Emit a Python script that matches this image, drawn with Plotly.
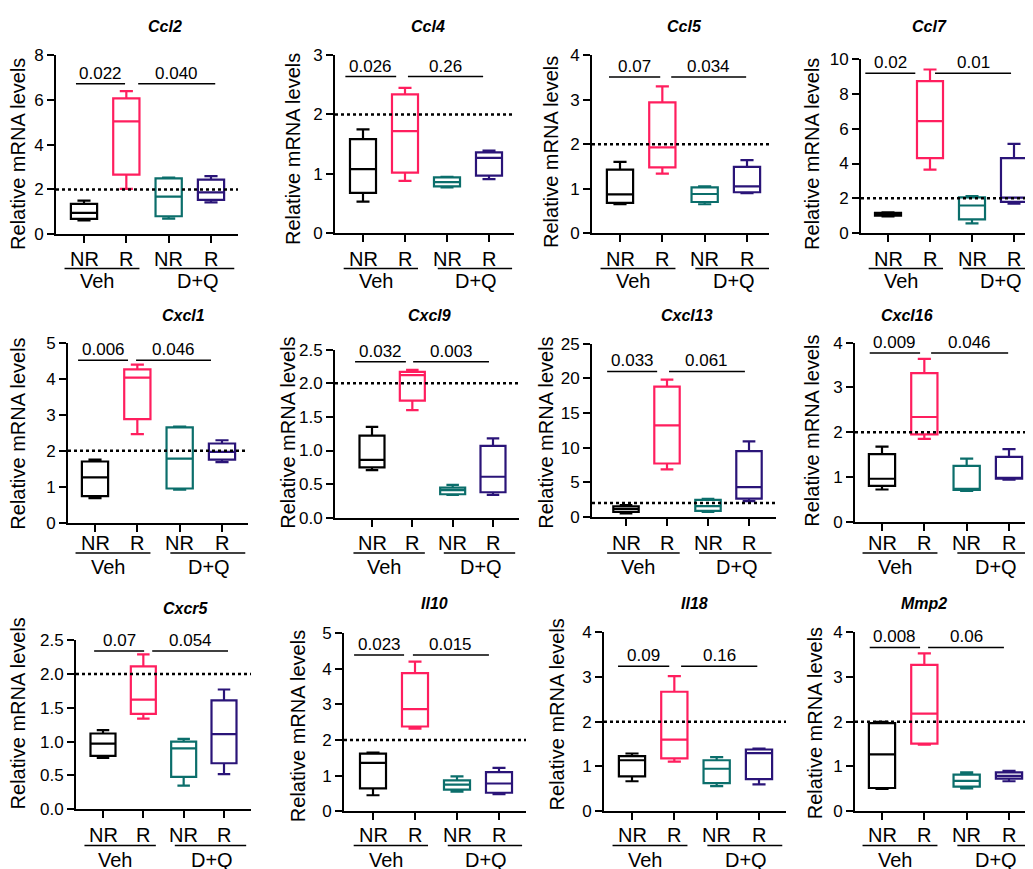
import plotly.graph_objects as go

W, H = 1033, 869

GENES = ["Ccl2", "Ccl4", "Ccl5", "Ccl7", "Cxcl1", "Cxcl9", "Cxcl13", "Cxcl16",
         "Cxcr5", "Il10", "Il18", "Mmp2"]
GROUP_CATS = ["NR", "R", "NR", "R"]
GROUP_NAMES = ["Veh", "D+Q"]

# box statistics per gene: [min, q1, median, q3, max]
VEH_NR = [
    [0.62, 0.68, 0.95, 1.35, 1.50],
    [0.53, 0.68, 1.08, 1.585, 1.75],
    [0.65, 0.68, 0.87, 1.43, 1.60],
    [0.97, 1.01, 1.10, 1.16, 1.20],
    [0.68, 0.74, 1.26, 1.70, 1.75],
    [0.71, 0.75, 0.86, 1.22, 1.35],
    [0.50, 0.70, 1.10, 1.50, 1.70],
    [0.72, 0.80, 0.96, 1.51, 1.68],
    [0.76, 0.79, 0.97, 1.12, 1.17],
    [0.45, 0.64, 1.36, 1.62, 1.65],
    [0.67, 0.78, 1.14, 1.23, 1.29],
    [0.50, 0.52, 1.27, 1.97, 2.00],
]
VEH_R = [
    [2.02, 2.66, 5.04, 6.07, 6.39],
    [0.88, 1.02, 1.72, 2.34, 2.45],
    [1.34, 1.48, 1.93, 2.94, 3.30],
    [3.65, 4.31, 6.44, 8.73, 9.40],
    [2.46, 2.88, 4.03, 4.26, 4.39],
    [1.60, 1.74, 2.12, 2.17, 2.20],
    [6.84, 7.70, 13.2, 18.8, 19.8],
    [1.85, 1.95, 2.34, 3.32, 3.64],
    [1.34, 1.41, 1.62, 2.11, 2.29],
    [2.32, 2.38, 2.87, 3.88, 4.20],
    [1.11, 1.18, 1.60, 2.67, 3.02],
    [1.49, 1.51, 2.18, 3.27, 3.53],
]
DQ_NR = [
    [0.69, 0.80, 1.68, 2.49, 2.53],
    [0.77, 0.79, 0.86, 0.94, 0.95],
    [0.65, 0.70, 0.88, 1.03, 1.05],
    [0.56, 0.79, 1.59, 2.06, 2.13],
    [0.92, 0.95, 1.78, 2.65, 2.67],
    [0.34, 0.35, 0.41, 0.45, 0.49],
    [0.70, 0.85, 1.56, 2.45, 2.60],
    [0.69, 0.71, 0.73, 1.25, 1.41],
    [0.35, 0.48, 0.90, 1.00, 1.04],
    [0.55, 0.61, 0.75, 0.87, 0.98],
    [0.56, 0.63, 0.95, 1.14, 1.21],
    [0.51, 0.55, 0.68, 0.82, 0.87],
]
DQ_R = [
    [1.42, 1.53, 1.87, 2.44, 2.59],
    [0.91, 0.97, 1.27, 1.36, 1.39],
    [0.90, 0.92, 1.05, 1.49, 1.64],
    [1.69, 1.80, 2.04, 4.31, 5.13],
    [1.68, 1.75, 1.97, 2.20, 2.29],
    [0.34, 0.38, 0.61, 1.07, 1.18],
    [2.26, 2.64, 4.29, 9.48, 10.9],
    [0.94, 0.96, 0.98, 1.45, 1.62],
    [0.52, 0.68, 1.11, 1.61, 1.77],
    [0.48, 0.52, 0.78, 1.10, 1.22],
    [0.60, 0.72, 1.30, 1.38, 1.40],
    [0.67, 0.73, 0.79, 0.87, 0.90],
]
P_VEH = ["0.022", "0.026", "0.07", "0.02", "0.006", "0.032", "0.033", "0.009",
         "0.07", "0.023", "0.09", "0.008"]
P_DQ = ["0.040", "0.26", "0.034", "0.01", "0.046", "0.003", "0.061", "0.046",
        "0.054", "0.015", "0.16", "0.06"]
BRACKET_Y = [6.72, 2.64, 3.51, 9.18, 4.51, 2.32, 21.0, 3.77, 2.34, 4.39, 3.24, 3.66]
Y_MAX = [8, 3, 4, 10, 5, 2.5, 25, 4, 2.5, 5, 4, 4]
Y_STEP = [2, 1, 1, 2, 1, 0.5, 5, 1, 0.5, 1, 1, 1]
THRESHOLD = 2

# ---- layout (pixel geometry) ----
BR_L = [(-0.19, 0.97), (-0.42, 0.79), (-0.26, 0.95), (-0.54, 0.65), (-0.40, 0.78),
        (-0.42, 0.84), (-0.46, 0.76), (-0.29, 0.90), (-0.22, 1.02), (-0.45, 0.74),
        (-0.33, 0.88), (-0.29, 0.90)]
BR_R = [(1.28, 3.10), (1.07, 2.86), (1.21, 2.98), (1.12, 2.93), (0.97, 2.74),
        (1.02, 2.90), (1.05, 2.90), (1.16, 2.98), (1.22, 3.10), (0.95, 2.76),
        (1.16, 2.96), (1.09, 2.88)]
GEOM = [  # xl, c0, c3, xr, ytop, ybottom
    (48, 76, 203, 230, 39, 222),
    (327, 355, 481, 506, 39, 221),
    (584, 612, 739, 761, 39, 221),
    (853, 880, 1006, 1031, 43, 221),
    (60, 87, 214, 240, 333, 517),
    (327, 364, 485, 511, 340, 512),
    (584, 618, 741, 768, 334, 511),
    (847, 874, 1001, 1027, 333, 516),
    (68, 95, 216, 243, 637, 810),
    (336, 365, 491, 518, 630, 812),
    (596, 624, 751, 778, 629, 812),
    (847, 874, 1001, 1028, 629, 812),
]
TITLE_XY = [(138, 10), (420, 10), (676, 10), (941, 10), (152, 305), (421, 305),
            (679, 305), (927, 305), (153, 605), (426, 600), (686, 600), (941, 600)]
YT_X = [10, 285, 543, 804, 10, 280, 538, 804, 10, 290, 549, 807]
YT_Y = [140, 135, 138, 140, 426, 425, 425, 423, 712, 725, 713, 722]
ROW_CAT_Y = [247, 538, 836]
ROW_LINE_Y = [257, 548, 847]
ROW_GRP_Y = [270, 562, 862]
VEH_LINE = (-0.46, 1.31)
DQ_LINE = (1.78, 3.55)
GRP_X = [0.30, 2.70]

COLORS = ["#000000", "#FF1E5E", "#0B6E6B", "#2A1478"]
FONT = "Liberation Sans, Arial, sans-serif"


def px(x):
    return x / W


def py(y):
    return 1 - y / H


fig = go.Figure()
shapes = []
annotations = []
layout = {}

for i, gene in enumerate(GENES):
    n = "" if i == 0 else str(i + 1)
    xl, c0, c3, xr, yt, yb = GEOM[i]
    unit = (c3 - c0) / 3.0
    lo = -(c0 - xl) / unit
    hi = 3 + (xr - c3) / unit
    row = i // 4
    ymax = Y_MAX[i]
    step = Y_STEP[i]
    nt = int(round(ymax / step))
    tickvals = [k * step for k in range(nt + 1)]
    if step < 1:
        ticktext = [f"{v:.1f}" for v in tickvals]
    else:
        ticktext = [f"{v:g}" for v in tickvals]

    layout[f"xaxis{n}"] = dict(
        domain=[px(xl), px(xr)], range=[lo, hi], anchor=f"y{n}",
        tickvals=[0, 1, 2, 3], showticklabels=False, ticks="outside",
        ticklen=7, tickwidth=2, tickcolor="black", showline=True,
        linewidth=2, linecolor="black", showgrid=False, zeroline=False,
        fixedrange=True)
    layout[f"yaxis{n}"] = dict(
        domain=[py(yb), py(yt)], range=[0, ymax], anchor=f"x{n}",
        tickvals=tickvals, ticktext=ticktext, ticks="outside", ticklen=7,
        tickwidth=2, tickcolor="black", showline=True, linewidth=2,
        linecolor="black", showgrid=False, zeroline=False,
        tickfont=dict(family=FONT, size=17, color="black"), fixedrange=True)

    for k, stats in enumerate([VEH_NR[i], VEH_R[i], DQ_NR[i], DQ_R[i]]):
        mn, q1, med, q3, mx = stats
        fig.add_trace(go.Box(
            x=[k], q1=[q1], median=[med], q3=[q3], lowerfence=[mn],
            upperfence=[mx], xaxis=f"x{n}", yaxis=f"y{n}",
            line=dict(color=COLORS[k], width=2.2),
            fillcolor="rgba(255,255,255,0)", width=0.62, whiskerwidth=0.5,
            boxpoints=False, showlegend=False, hoverinfo="skip"))

    # threshold dotted line
    shapes.append(dict(type="line", xref=f"x{n} domain", yref=f"y{n}",
                       x0=0, x1=1, y0=THRESHOLD, y1=THRESHOLD,
                       line=dict(color="black", width=2.5, dash="dot")))
    # significance brackets
    for (a, b), ptxt in [(BR_L[i], P_VEH[i]), (BR_R[i], P_DQ[i])]:
        shapes.append(dict(type="line", xref=f"x{n}", yref=f"y{n}",
                           x0=a, x1=b, y0=BRACKET_Y[i], y1=BRACKET_Y[i],
                           line=dict(color="black", width=1.5)))
        annotations.append(dict(x=(a + b) / 2, y=BRACKET_Y[i], xref=f"x{n}",
                                yref=f"y{n}", text=ptxt, showarrow=False,
                                yanchor="bottom", yshift=-1,
                                font=dict(family=FONT, size=17, color="black")))
    # category labels
    for k, cat in enumerate(GROUP_CATS):
        annotations.append(dict(x=k, y=py(ROW_CAT_Y[row]), xref=f"x{n}",
                                yref="paper", text=cat, showarrow=False,
                                yanchor="middle",
                                font=dict(family=FONT, size=20, color="black")))
    # group underlines and labels
    for (a, b) in [VEH_LINE, DQ_LINE]:
        shapes.append(dict(type="line", xref=f"x{n}", yref="paper",
                           x0=a, x1=b, y0=py(ROW_LINE_Y[row]),
                           y1=py(ROW_LINE_Y[row]),
                           line=dict(color="black", width=1.5)))
    for gx, gname in zip(GRP_X, GROUP_NAMES):
        annotations.append(dict(x=gx, y=py(ROW_GRP_Y[row]), xref=f"x{n}",
                                yref="paper", text=gname, showarrow=False,
                                yanchor="middle",
                                font=dict(family=FONT, size=20, color="black")))
    # panel title
    tx, ty = TITLE_XY[i]
    annotations.append(dict(x=px(tx), y=py(ty), xref="paper", yref="paper",
                            text=f"<b><i>{gene}</i></b>", showarrow=False,
                            yanchor="middle",
                            font=dict(family=FONT, size=16, color="black")))
    # y axis title
    annotations.append(dict(x=px(YT_X[i]), y=py(YT_Y[i]), xref="paper",
                            yref="paper", text="Relative mRNA levels",
                            textangle=-90, showarrow=False, xanchor="center",
                            yanchor="middle",
                            font=dict(family=FONT, size=20, color="black")))

fig.update_layout(
    width=W, height=H, margin=dict(l=0, r=0, t=0, b=0),
    paper_bgcolor="white", plot_bgcolor="white",
    shapes=shapes, annotations=annotations, showlegend=False,
    boxmode="overlay", **layout)

fig.write_html("out.html")
